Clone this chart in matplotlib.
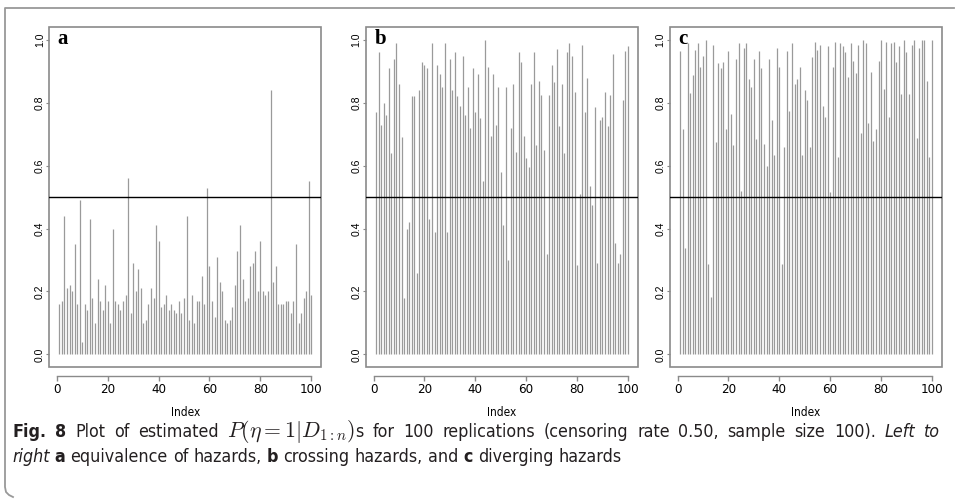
import matplotlib
matplotlib.use("Agg")
import matplotlib.pyplot as plt
import matplotlib.transforms as mtransforms
from matplotlib.lines import Line2D
from matplotlib.patches import Rectangle
import numpy as np

plt.rcParams["mathtext.fontset"] = "cm"

# estimated P(eta = 1 | D_1:n) for each of the 100 replications
index = np.arange(1, 101)

prob_equiv = [
    0.16, 0.17, 0.44, 0.21, 0.22, 0.20, 0.35, 0.16, 0.49, 0.04,
    0.16, 0.14, 0.43, 0.18, 0.10, 0.24, 0.17, 0.14, 0.22, 0.17,
    0.10, 0.40, 0.17, 0.16, 0.14, 0.17, 0.19, 0.56, 0.13, 0.29,
    0.20, 0.27, 0.21, 0.10, 0.11, 0.16, 0.21, 0.18, 0.41, 0.36,
    0.15, 0.16, 0.19, 0.14, 0.16, 0.14, 0.13, 0.17, 0.13, 0.18,
    0.44, 0.11, 0.19, 0.10, 0.17, 0.17, 0.25, 0.16, 0.53, 0.28,
    0.17, 0.12, 0.31, 0.23, 0.20, 0.11, 0.10, 0.11, 0.15, 0.22,
    0.33, 0.41, 0.24, 0.17, 0.18, 0.28, 0.29, 0.33, 0.20, 0.36,
    0.20, 0.19, 0.20, 0.84, 0.23, 0.28, 0.16, 0.16, 0.16, 0.17,
    0.17, 0.13, 0.17, 0.35, 0.10, 0.13, 0.18, 0.20, 0.55, 0.19,
]

prob_crossing = [
    0.77, 0.96, 0.73, 0.80, 0.76, 0.91, 0.64, 0.94, 0.99, 0.86,
    0.69, 0.18, 0.40, 0.42, 0.82, 0.82, 0.26, 0.84, 0.93, 0.92,
    0.91, 0.43, 0.99, 0.39, 0.92, 0.89, 0.85, 0.99, 0.39, 0.94,
    0.84, 0.96, 0.82, 0.79, 0.95, 0.76, 0.85, 0.72, 0.91, 0.77,
    0.89, 0.75, 0.55, 1.00, 0.915, 0.695, 0.89, 0.73, 0.85, 0.58,
    0.41, 0.85, 0.30, 0.72, 0.86, 0.645, 0.96, 0.93, 0.695, 0.625,
    0.595, 0.86, 0.96, 0.665, 0.87, 0.825, 0.65, 0.32, 0.825, 0.92,
    0.865, 0.97, 0.725, 0.86, 0.64, 0.96, 0.99, 0.95, 0.835, 0.285,
    0.51, 0.985, 0.77, 0.88, 0.535, 0.475, 0.785, 0.29, 0.745, 0.755,
    0.835, 0.725, 0.825, 0.955, 0.355, 0.29, 0.32, 0.81, 0.965, 0.98,
]

prob_diverging = [
    0.966, 0.716, 0.337, 0.99, 0.83, 0.889, 0.967, 0.989, 0.915, 0.949,
    1.0, 0.286, 0.183, 0.984, 0.674, 0.926, 0.91, 0.93, 0.716, 0.965,
    0.765, 0.666, 0.94, 0.989, 0.52, 0.975, 0.99, 0.875, 0.85, 0.94,
    0.685, 0.965, 0.91, 0.67, 0.599, 0.94, 0.745, 0.634, 0.975, 0.915,
    0.286, 0.66, 0.965, 0.775, 0.99, 0.86, 0.876, 0.913, 0.634, 0.840,
    0.809, 0.660, 0.944, 0.993, 0.968, 0.984, 0.790, 0.754, 0.979, 0.515,
    0.913, 0.993, 0.629, 0.989, 0.979, 0.963, 0.883, 0.989, 0.934, 0.894,
    0.984, 0.703, 1.0, 0.989, 0.735, 0.899, 0.680, 0.716, 0.934, 1.0,
    0.844, 0.993, 0.754, 0.989, 0.993, 0.930, 0.979, 0.829, 1.0, 0.96,
    0.829, 0.984, 1.0, 0.689, 0.975, 1.0, 1.0, 0.870, 0.626, 1.0,
]

panel_letters = ["a", "b", "c"]
panel_data = [prob_equiv, prob_crossing, prob_diverging]
xticks = [0, 20, 40, 60, 80, 100]
yticks = [0.0, 0.2, 0.4, 0.6, 0.8, 1.0]
threshold = 0.5

W, H = 955, 500
NARROW = dict(family="DejaVu Sans", stretch="condensed")
GREY = "#8a8a8a"

fig = plt.figure(figsize=(W / 100, H / 100), dpi=100)

# axes boxes in pixel units (left, top, width, height)
lefts = [49.3, 366.0, 670.0]
top, bw, bh = 27.3, 272.0, 339.6

for left, letter, vals in zip(lefts, panel_letters, panel_data):
    ax = fig.add_axes([left / W, 1 - (top + bh) / H, bw / W, bh / H])
    ax.vlines(index, 0, vals, color="#9a9a9a", lw=0.9)
    ax.axhline(threshold, color="black", lw=1.0)
    ax.set_xlim(-2.96, 103.96)
    ax.set_ylim(-0.04, 1.04)

    ax.add_patch(Rectangle((0, 0), 1, 1, transform=ax.transAxes, fill=False,
                           edgecolor=GREY, lw=1.2, clip_on=False))
    for s in ["top", "right", "left"]:
        ax.spines[s].set_visible(False)
    ax.spines["bottom"].set_position(("outward", 6.5))
    ax.spines["bottom"].set_bounds(0, 100)
    ax.spines["bottom"].set_color(GREY)
    ax.spines["bottom"].set_linewidth(1.0)

    ax.set_xticks(xticks)
    ax.set_xticklabels([str(t) for t in xticks], fontsize=9.5, **NARROW)
    ax.tick_params(axis="x", length=3.5, width=1.0, color=GREY, pad=1.5)

    ax.set_yticks(yticks)
    ax.set_yticklabels([f"{t:.1f}" for t in yticks], family="Liberation Sans",
                       fontsize=7.5, rotation=90, va="center", ha="right")
    ax.tick_params(axis="y", length=2.5, width=0.8, color=GREY, pad=0.8)

    ax.set_xlabel("Index", fontsize=8.5, labelpad=7, **NARROW)
    ax.text(0.3, 1.035, letter, family=["Liberation Serif", "DejaVu Serif"],
            fontweight="bold", fontsize=15, va="top", ha="left")

# outer caption frame (pixel coords measured from the top)
frame_x = [W - 1, 5, 5, 6, 9, 13]
frame_y = [8, 8, 487, 492, 495, 497]
fig.add_artist(Line2D(frame_x, [H - y for y in frame_y],
                      transform=mtransforms.IdentityTransform(),
                      color="#999999", lw=1.3))

# caption, drawn word by word (first line justified like the journal layout)
renderer = fig.canvas.get_renderer()
ident = mtransforms.IdentityTransform()
CAP_SIZE = 12.8
MATH_SCALE = 1.22


def style_kw(kw):
    kw = dict(kw)
    if kw.pop("math", False):
        kw["fontsize"] = CAP_SIZE * MATH_SCALE
    else:
        kw.setdefault("family", "DejaVu Sans")
        kw.setdefault("stretch", "condensed")
        kw["fontsize"] = CAP_SIZE
    return kw


def text_width(s, **kw):
    t = fig.text(0, 0, s, transform=ident, **kw)
    w = t.get_window_extent(renderer).width
    t.remove()
    return w


def layout(runs):
    # items: ("word", text, kw, width) or ("space", None, None, width)
    items = []
    for s, kw in runs:
        is_math = kw.get("math", False)
        kw = style_kw(kw)
        sp = text_width("x x", **kw) - text_width("xx", **kw)
        parts = [s] if is_math else s.split(" ")
        for k, p in enumerate(parts):
            if k > 0:
                items.append(("space", None, None, sp))
            if p:
                items.append(("word", p, kw, text_width(p, **kw)))
    return items


def draw_line(items, x, y_img, target=None):
    natural = sum(it[3] for it in items)
    n_sp = sum(1 for it in items if it[0] == "space")
    extra = (target - natural) / n_sp if (target and n_sp) else 0.0
    extra = max(extra, 0.0)
    for kind, txt, kw, w in items:
        if kind == "space":
            x += w + extra
        else:
            fig.text(x, H - y_img, txt, transform=ident, va="baseline",
                     color="#231f20", **kw)
            x += w


line1 = [
    ("Fig. 8", dict(fontweight="bold")),
    (" Plot of estimated ", {}),
    (r"$P(\eta = 1|D_{1:n})$", dict(math=True)),
    ("s for 100 replications (censoring rate 0.50, sample size 100). ", {}),
    ("Left to", dict(style="italic")),
]
line2 = [
    ("right ", dict(style="italic")),
    ("a", dict(fontweight="bold")),
    (" equivalence of hazards, ", {}),
    ("b", dict(fontweight="bold")),
    (" crossing hazards, and ", {}),
    ("c", dict(fontweight="bold")),
    (" diverging hazards", {}),
]

draw_line(layout(line1), 12, 437, target=940 - 12)
draw_line(layout(line2), 12, 462)

fig.savefig("out.png", dpi=100)
